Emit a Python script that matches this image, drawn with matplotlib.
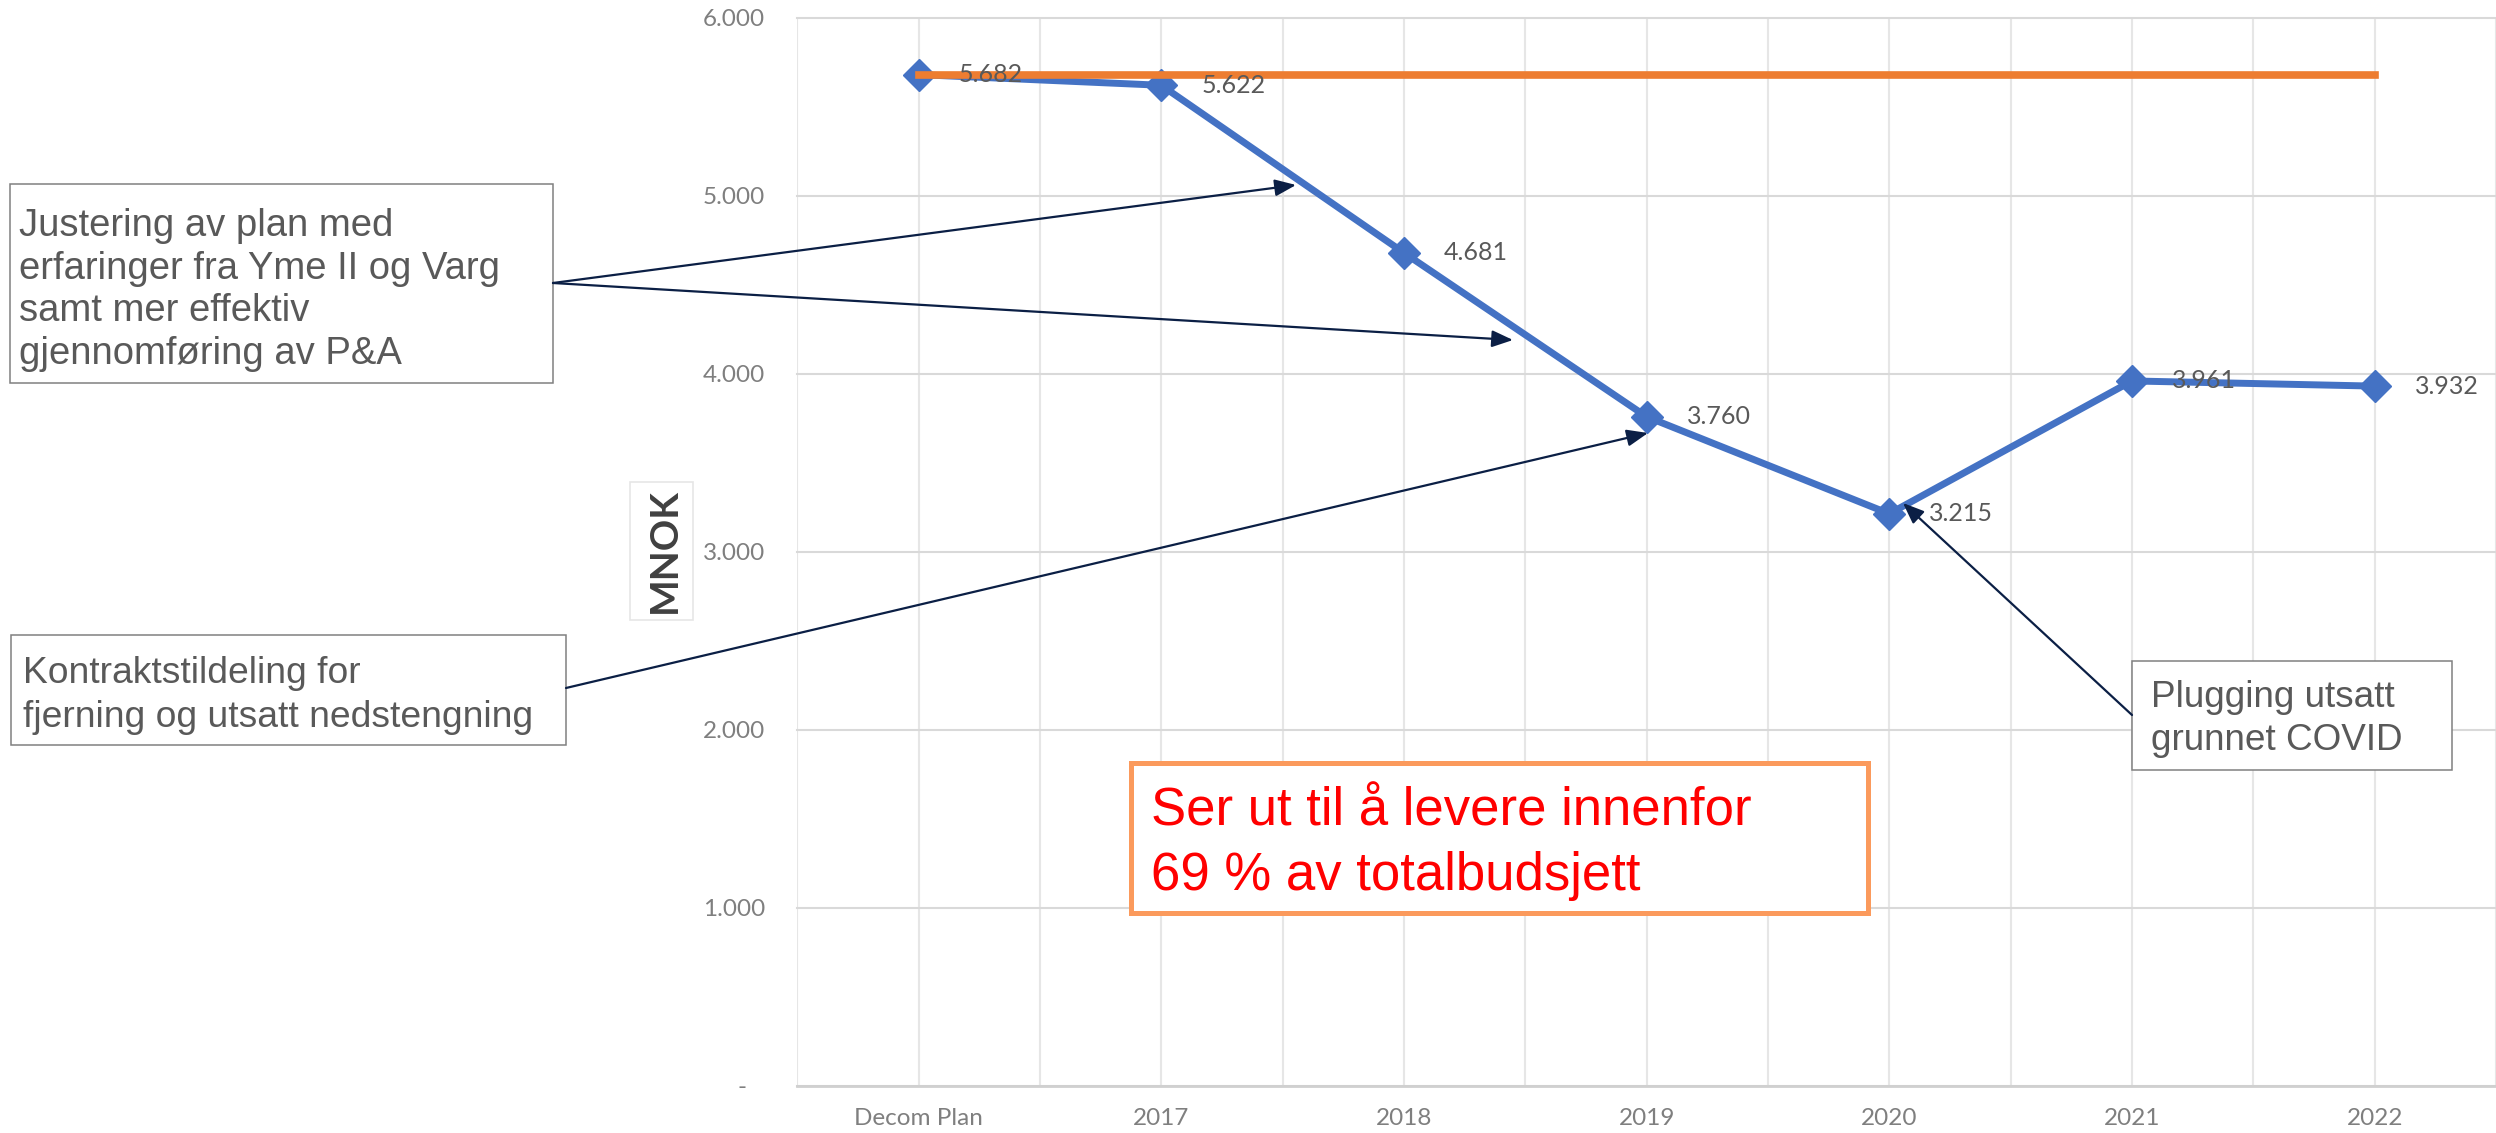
import numpy as np
import matplotlib.pyplot as plt
from matplotlib.patches import Rectangle, FancyArrowPatch

# Data
categories = ["Decom Plan", "2017", "2018", "2019", "2020", "2021", "2022"]
estimate = [5682, 5622, 4681, 3760, 3215, 3961, 3932]
budget = [5682, 5682, 5682, 5682, 5682, 5682, 5682]
y_ticks = [0, 1000, 2000, 3000, 4000, 5000, 6000]
y_tick_labels = ["-   ", "1.000", "2.000", "3.000", "4.000", "5.000", "6.000"]

W, H = 2496, 1133
fig = plt.figure(figsize=(W / 100, H / 100), dpi=100)

# axes placement in pixels (top-left origin)
x_first, step = 919, 243.6
ax_left = x_first - 0.5 * step
ax_top, ax_bottom = 18, 1086
ax = fig.add_axes([ax_left / W, 1 - ax_bottom / H, (W - ax_left) / W, (ax_bottom - ax_top) / H])

x = np.arange(len(categories))
ax.set_xlim(-0.5, (W - x_first) / step)
ax.set_ylim(0, 6000)

blue = "#4472C4"
orange = "#ED7D31"
ax.plot(x, estimate, color=blue, lw=5, marker="D", markersize=16, zorder=3)
ax.plot(x, budget, color=orange, lw=5.5, zorder=5)

for xi, v in zip(x, estimate):
    ax.annotate(f"{v/1000:.3f}", (xi, v), xytext=(28.8, 0), textcoords="offset points",
                ha="left", va="center", fontsize=18, color="#595959",
                family="Lato", zorder=6)

# grid
ax.set_yticks(y_ticks)
ax.set_yticklabels(y_tick_labels)
ax.set_xticks(x)
ax.set_xticklabels(categories)
ax.set_xticks(np.arange(-0.5, 6.6, 0.5), minor=True)
ax.grid(axis="y", color="#d9d9d9", lw=1.5, zorder=0)
ax.grid(axis="x", which="both", color="#e6e6e6", lw=1.5, zorder=0)
for ln in ax.get_ygridlines():
    ln.set_clip_on(False)
ax.set_axisbelow(True)
for s in ["left", "right", "top"]:
    ax.spines[s].set_visible(False)
ax.spines["bottom"].set_color("#d0d0d0")
ax.spines["bottom"].set_linewidth(2)
ax.tick_params(axis="both", which="both", length=0)
ax.tick_params(axis="y", pad=23, labelsize=17.5, labelcolor="#7f7f7f")
ax.tick_params(axis="x", pad=16, labelsize=17.5, labelcolor="#7f7f7f")
for lab in ax.get_xticklabels() + ax.get_yticklabels():
    lab.set_family("Lato")


def px(xp, yp):
    return xp / W, 1 - yp / H


def box(x0, y0, x1, y1, ec, lw):
    fig.add_artist(Rectangle(px(x0, y1), (x1 - x0) / W, (y1 - y0) / H,
                             transform=fig.transFigure, facecolor="white",
                             edgecolor=ec, lw=lw, zorder=6))


def lines(xp, baselines, texts, size, color):
    for b, t in zip(baselines, texts):
        fig.text(*px(xp, b), t, ha="left", va="baseline", fontsize=size,
                 color=color, family="Liberation Sans", zorder=7)


# MNOK label
box(630, 482, 693, 620, "#e6e6e6", 1.2)
fig.text(*px(664, 551), "MNOK", rotation=90, ha="center", va="center",
         fontsize=28, fontweight="bold", color="#404040", family="Lato", zorder=7)

# annotation boxes
grey = "#595959"
box(10, 184, 553, 383, "#808080", 1.1)
lines(19, [236, 279, 321, 364],
      ["Justering av plan med", "erfaringer fra Yme II og Varg",
       "samt mer effektiv", "gjennomføring av P&A"], 27.5, grey)

box(11, 635, 566, 745, "#808080", 1.1)
lines(23, [683, 727], ["Kontraktstildeling for", "fjerning og utsatt nedstengning"], 26.8, grey)

box(2132, 661, 2452, 770, "#808080", 1.1)
lines(2151, [707, 750], ["Plugging utsatt", "grunnet COVID"], 26.6, grey)

box(1131, 763, 1868, 913, "#FB9A5C", 3.6)
lines(1151, [825, 890], ["Ser ut til å levere innenfor", "69 % av totalbudsjett"], 38, "#FF0000")

# arrows (figure pixels, top-left origin)
navy = "#0B1F45"
arrows = [((553, 283), (1296, 185)),
          ((553, 283), (1513, 340)),
          ((566, 688), (1648, 433)),
          ((2132, 715), (1903, 503))]
for (sx, sy), (tx, ty) in arrows:
    fig.add_artist(FancyArrowPatch(
        (sx, H - sy), (tx, H - ty), transform=None,
        arrowstyle="-|>,head_length=0.4,head_width=0.16", mutation_scale=32,
        color=navy, lw=1.6, shrinkA=0, shrinkB=0, zorder=8))

fig.savefig("out.png", dpi=100)
